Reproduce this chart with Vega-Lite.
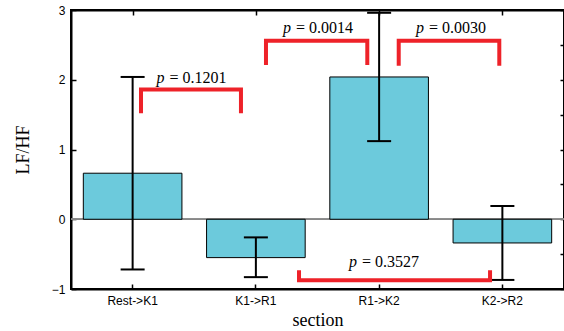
{
  "$schema": "https://vega.github.io/schema/vega-lite/v6.json",
  "autosize": "none",
  "width": 493,
  "height": 279,
  "padding": {"left": 71, "top": 10, "right": 0, "bottom": 42},
  "background": "white",
  "datasets": {
    "bars": [
      {"section": "Rest->K1", "mean": 0.66, "lo": -0.72, "hi": 2.04},
      {"section": "K1->R1", "mean": -0.55, "lo": -0.83, "hi": -0.26},
      {"section": "R1->K2", "mean": 2.04, "lo": 1.12, "hi": 2.96},
      {"section": "K2->R2", "mean": -0.34, "lo": -0.87, "hi": 0.19}
    ],
    "brackets": [
      {"b": 1, "o": 1, "x": 1.068, "y": 1.52},
      {"b": 1, "o": 2, "x": 1.068, "y": 1.86},
      {"b": 1, "o": 3, "x": 1.879, "y": 1.86},
      {"b": 1, "o": 4, "x": 1.879, "y": 1.52},
      {"b": 2, "o": 1, "x": 2.082, "y": 2.21},
      {"b": 2, "o": 2, "x": 2.082, "y": 2.56},
      {"b": 2, "o": 3, "x": 2.904, "y": 2.56},
      {"b": 2, "o": 4, "x": 2.904, "y": 2.21},
      {"b": 3, "o": 1, "x": 3.159, "y": 2.2},
      {"b": 3, "o": 2, "x": 3.159, "y": 2.56},
      {"b": 3, "o": 3, "x": 3.975, "y": 2.56},
      {"b": 3, "o": 4, "x": 3.975, "y": 2.2},
      {"b": 4, "o": 1, "x": 2.35, "y": -0.73},
      {"b": 4, "o": 2, "x": 2.35, "y": -0.875},
      {"b": 4, "o": 3, "x": 3.9, "y": -0.875},
      {"b": 4, "o": 4, "x": 3.9, "y": -0.73}
    ],
    "pvals": [
      {"label": "= 0.1201", "x": 1.275, "y": 1.96},
      {"label": "= 0.0014", "x": 2.301, "y": 2.67},
      {"label": "= 0.0030", "x": 3.38, "y": 2.67},
      {"label": "= 0.3527", "x": 2.837, "y": -0.69}
    ]
  },
  "layer": [
    {
      "data": {"name": "bars"},
      "encoding": {
        "x": {
          "field": "section", "type": "nominal", "sort": null,
          "scale": {"paddingInner": 0.2, "paddingOuter": 0.1},
          "axis": {
            "title": "section", "labelAngle": 0, "tickSize": -5, "labelPadding": 11,
            "titleFont": "Liberation Serif", "titleFontSize": 18, "titleFontWeight": "normal", "titleColor": "black", "titlePadding": 5
          }
        }
      },
      "layer": [
        {
          "mark": {"type": "rule", "color": "#888888", "strokeWidth": 1.5},
          "encoding": {"x": null, "y": {"datum": 0, "type": "quantitative", "scale": {"domain": [-1, 3], "nice": false}}}
        },
        {
          "mark": {"type": "bar", "color": "#6ccadc", "stroke": "black", "strokeWidth": 1},
          "encoding": {
            "y": {
              "field": "mean", "type": "quantitative",
              "scale": {"domain": [-1, 3], "nice": false},
              "axis": {
                "title": "LF/HF", "values": [-1, -0.5, 0, 0.5, 1, 1.5, 2, 2.5, 3], "format": "~g", "tickSize": -5, "labelPadding": 11,
                "titleFont": "Liberation Serif", "titleFontSize": 18, "titleFontWeight": "normal", "titleColor": "black", "titlePadding": 19
              }
            }
          }
        },
        {
          "mark": {"type": "rule", "color": "black", "strokeWidth": 2},
          "encoding": {"y": {"field": "lo", "type": "quantitative"}, "y2": {"field": "hi"}}
        },
        {
          "mark": {"type": "tick", "color": "black", "thickness": 2, "size": 24, "opacity": 1},
          "encoding": {"y": {"field": "lo", "type": "quantitative"}}
        },
        {
          "mark": {"type": "tick", "color": "black", "thickness": 2, "size": 24, "opacity": 1},
          "encoding": {"y": {"field": "hi", "type": "quantitative"}}
        }
      ]
    },
    {
      "encoding": {
        "x": {
          "field": "x", "type": "quantitative",
          "scale": {"domain": [0.5, 4.5], "nice": false, "zero": false},
          "axis": {"orient": "top", "values": [1, 2, 3, 4], "labels": false, "tickSize": -5, "title": null}
        },
        "y": {
          "field": "y", "type": "quantitative",
          "scale": {"domain": [-1, 3], "nice": false},
          "axis": {"orient": "right", "values": [-1, -0.5, 0, 0.5, 1, 1.5, 2, 2.5, 3], "labels": false, "tickSize": -4, "title": null}
        }
      },
      "layer": [
        {
          "data": {"name": "brackets"},
          "mark": {"type": "line", "color": "#ee2229", "strokeWidth": 4, "strokeCap": "butt", "strokeJoin": "miter"},
          "encoding": {
            "detail": {"field": "b", "type": "nominal"},
            "order": {"field": "o", "type": "quantitative"}
          }
        },
        {
          "data": {"name": "pvals"},
          "mark": {"type": "text", "text": "p", "font": "Liberation Serif", "fontSize": 16, "fontStyle": "italic", "align": "right", "baseline": "alphabetic", "dx": -2, "color": "black"}
        },
        {
          "data": {"name": "pvals"},
          "mark": {"type": "text", "font": "Liberation Serif", "fontSize": 16, "align": "left", "baseline": "alphabetic", "dx": 3, "color": "black"},
          "encoding": {"text": {"field": "label", "type": "nominal"}}
        }
      ]
    }
  ],
  "resolve": {"scale": {"x": "independent"}, "axis": {"x": "independent", "y": "independent"}},
  "config": {
    "view": {"stroke": "black", "strokeWidth": 2},
    "axis": {
      "grid": false, "domainColor": "black", "domainWidth": 2, "tickColor": "black", "tickWidth": 1.5,
      "labelFont": "Liberation Sans", "labelFontSize": 12, "labelColor": "black"
    }
  }
}
